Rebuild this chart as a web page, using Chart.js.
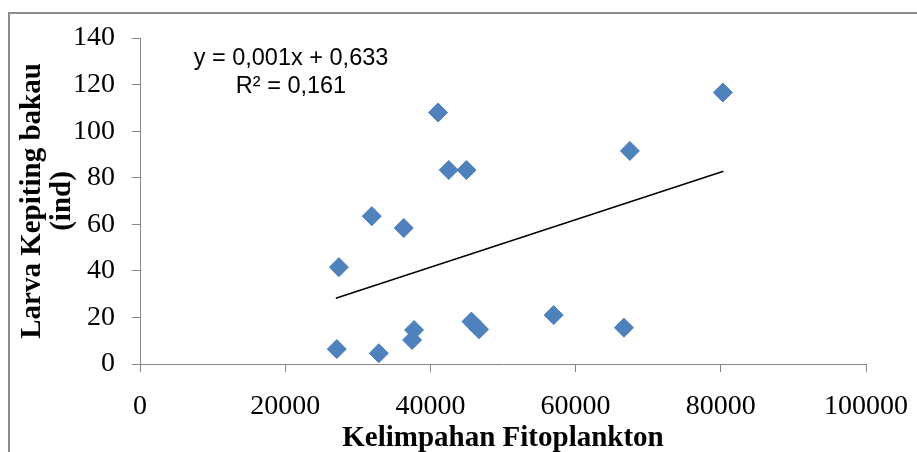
<!DOCTYPE html>
<html>
<head>
<meta charset="utf-8">
<title>Larva Kepiting bakau vs Kelimpahan Fitoplankton</title>
<script src="https://cdn.jsdelivr.net/npm/chart.js@4/dist/chart.umd.min.js"></script>
<style>
  html, body { margin: 0; padding: 0; background: #fff; }
  canvas { display: block; }
</style>
</head>
<body>
<canvas id="chart" width="917" height="452"></canvas>
<script>
// Kelimpahan Fitoplankton (x) and Larva Kepiting bakau (y)
const fitoplankton = [27110, 27390, 31930, 32890, 36330, 37480, 37750, 41060, 42530, 44960, 45650, 46700, 56980, 66660, 67480, 80280];
const larva = [6.4, 41.6, 63.5, 4.6, 58.4, 10.3, 14.6, 108, 83.3, 83.3, 18.2, 14.9, 21, 15.6, 91.5, 116.6];

// linear trendline ends, as drawn
const trendX = [26970, 80370];
const trendY = [28.2, 82.8];

const equationLines = ['y = 0,001x + 0,633', 'R² = 0,161'];

const xTitle = 'Kelimpahan Fitoplankton';
const yTitle = ['Larva Kepiting bakau', '(ind)'];

const axisGray = '#868686';
const markerBlue = '#4F81BD';
const serif = '"Liberation Serif", "Times New Roman", serif';

const toPoints = (xs, ys) => xs.map((x, i) => ({ x: x, y: ys[i] }));

// chart frame + trendline equation
const extras = {
    id: 'extras',
    beforeDraw(chart) {
        const ctx = chart.ctx;
        ctx.save();
        ctx.fillStyle = '#fff';
        ctx.fillRect(0, 0, chart.width, chart.height);
        ctx.strokeStyle = '#8c8c8c';
        ctx.lineWidth = 2;
        ctx.strokeRect(9, 13, 1000, 1000);
        ctx.restore();
    },
    afterDraw(chart) {
        const ctx = chart.ctx;
        ctx.save();
        ctx.font = '23.5px "Liberation Sans", Arial, sans-serif';
        ctx.fillStyle = '#000';
        ctx.textAlign = 'center';
        ctx.textBaseline = 'alphabetic';
        ctx.fillText(equationLines[0], 291, 65);
        ctx.fillText(equationLines[1], 291, 93);
        ctx.restore();
    }
};

new Chart(document.getElementById('chart'), {
    type: 'scatter',
    data: {
        datasets: [
            {
                label: 'Larva',
                data: toPoints(fitoplankton, larva),
                pointStyle: 'rectRot',
                pointRadius: 9.5,
                pointHoverRadius: 9.5,
                backgroundColor: markerBlue,
                borderColor: '#4A7EBB',
                borderWidth: 1
            },
            {
                label: 'Linear',
                type: 'line',
                data: toPoints(trendX, trendY),
                borderColor: '#000',
                borderWidth: 1.5,
                pointRadius: 0,
                fill: false
            }
        ]
    },
    options: {
        responsive: false,
        animation: false,
        layout: { padding: { top: 38, right: 51, bottom: 0, left: 0 } },
        plugins: {
            legend: { display: false },
            tooltip: { enabled: false }
        },
        scales: {
            x: {
                type: 'linear',
                min: 0,
                max: 100000,
                afterFit: (scale) => {
                    scale.height = 88;
                    scale.paddingLeft = 0;
                    scale.paddingRight = 0;
                },
                border: { color: axisGray, width: 1 },
                grid: { drawOnChartArea: false, drawTicks: true, tickLength: 8, color: axisGray },
                ticks: {
                    stepSize: 20000,
                    padding: 18,
                    color: '#000',
                    font: { family: serif, size: 28 },
                    callback: (v) => String(v)
                },
                title: {
                    display: true,
                    text: xTitle,
                    color: '#000',
                    padding: 0,
                    font: { family: serif, size: 29, weight: 'bold', lineHeight: 0.92 }
                }
            },
            y: {
                type: 'linear',
                min: 0,
                max: 140,
                afterFit: (scale) => {
                    scale.width = 140;
                    scale.paddingTop = 0;
                    scale.paddingBottom = 0;
                },
                border: { color: axisGray, width: 1 },
                grid: { drawOnChartArea: false, drawTicks: true, tickLength: 8, color: axisGray },
                ticks: {
                    stepSize: 20,
                    padding: 17,
                    color: '#000',
                    font: { family: serif, size: 28 }
                },
                title: {
                    display: true,
                    text: yTitle,
                    color: '#000',
                    padding: { top: 18, bottom: 0 },
                    font: { family: serif, size: 29, weight: 'bold', lineHeight: 1.02 }
                }
            }
        }
    },
    plugins: [extras]
});
</script>
</body>
</html>
